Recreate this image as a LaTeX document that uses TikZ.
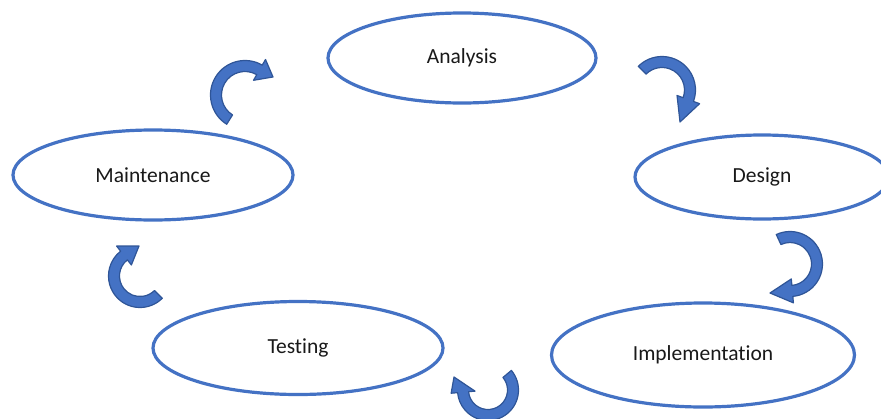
\documentclass[tikz,border=0pt]{standalone}
\usepackage{fontspec}
\setmainfont{Carlito}[Ligatures={NoCommon,NoRequired,NoContextual}]
\usetikzlibrary{shapes.geometric,calc}
\definecolor{ellblue}{HTML}{4472C4}
\definecolor{arrfill}{HTML}{4472C4}
\definecolor{arrline}{HTML}{2F5597}
\newcommand\carrow[7]{%
  \filldraw[arrowshape]
    ($(#1,#2)+(#4:#3+5.5)$) arc[start angle=#4, end angle=#5, radius=#3+5.5]
    -- ($(#1,#2)+(#5:#3+12)$) -- (#6,#7) -- ($(#1,#2)+(#5:#3-12)$)
    -- ($(#1,#2)+(#5:#3-5.5)$) arc[start angle=#5, end angle=#4, radius=#3-5.5]
    -- cycle;}
\begin{document}
\begin{tikzpicture}[x=1pt,y=-1pt,
  phase/.style={ellipse, draw=ellblue, line width=3.2pt, fill=white, inner sep=0pt,
    font=\fontsize{21.5}{24}\selectfont, text=black!90},
  arrowshape/.style={fill=arrfill, draw=arrline, line width=1.2pt, line join=round}]
\useasboundingbox (0,0) rectangle (881,418);
\node[phase, minimum width=268pt, minimum height=90pt] (analysis) at (462,58) {Analysis};
\node[phase, minimum width=254pt, minimum height=84pt] (design) at (762,177) {Design};
\node[phase, minimum width=303pt, minimum height=104pt] (impl) at (703,355) {Implementation};
\node[phase, minimum width=290pt, minimum height=93pt] (testing) at (298,348) {Testing};
\node[phase, minimum width=280pt, minimum height=90pt] (maint) at (153,175) {Maintenance};
% curved block arrows
\carrow{245}{95}{29}{122}{300}{273}{77}
\carrow{662}{90}{28}{225}{380}{680}{122}
\carrow{790}{264}{27}{245}{445}{770}{293}
\carrow{488}{390}{25}{-40}{175}{454}{377}
\carrow{140}{276}{26}{45}{232}{139}{246}
\end{tikzpicture}
\end{document}
